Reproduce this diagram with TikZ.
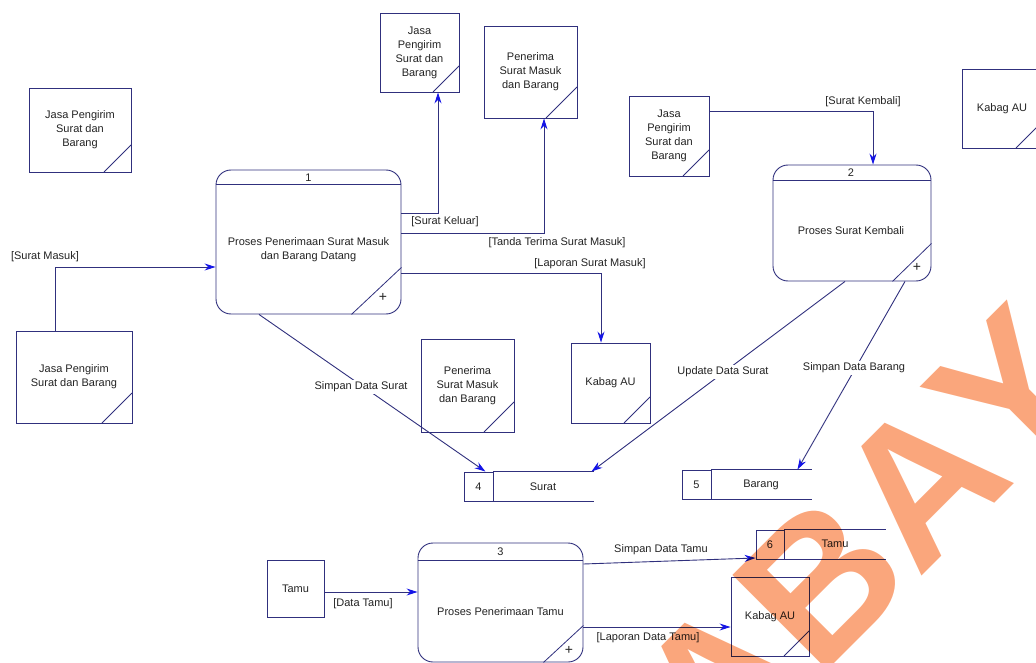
\documentclass[tikz,border=0pt]{standalone}
\usepackage{fontspec}
\setmainfont{Liberation Sans}
\usetikzlibrary{arrows.meta,calc}

\definecolor{edge}{RGB}{48,48,125}
\definecolor{tip}{RGB}{20,20,230}
\definecolor{ink}{RGB}{35,35,35}
\definecolor{stamp}{RGB}{250,166,124}

\tikzset{
  lbl/.style={font=\fontsize{11}{14}\selectfont, text=ink, align=center, inner sep=0pt},
  tag/.style={lbl, fill=white, inner sep=1.5pt},
  ent/.style={draw=edge, line width=0.9pt, lbl},
  dup/.style={path picture={\draw[edge, line width=0.8pt]
      ([xshift=-#1]path picture bounding box.south east) --
      ([yshift=#1]path picture bounding box.south east);}},
  dup/.default=27pt,
  proc/.style={draw=edge, line width=0.9pt, rounded corners=15pt, inner sep=0pt},
  thinedge/.style={draw=edge, line width=0.8pt},
  plus/.style={font=\fontsize{14}{14}\selectfont, text=ink, inner sep=0pt},
  cell/.style={draw=edge, line width=0.9pt, lbl, minimum width=29pt, minimum height=29pt},
  flow/.style={draw=edge, line width=0.9pt, -{Stealth[length=11pt,width=7pt,color=tip]}},
  wm/.style={text=stamp, font=\bfseries\fontsize{195}{195}\selectfont, rotate=45, anchor=base, inner sep=0pt},
}

\begin{document}
\begin{tikzpicture}[x=1pt,y=-1pt]
\useasboundingbox (0,0) rectangle (1036,663);

% ---- external entities ----
\node[ent, dup, minimum width=102pt, minimum height=84pt] (e1) at (80,130) {Jasa Pengirim\\Surat dan\\Barang};
\node[ent, dup=26pt, minimum width=79pt, minimum height=79pt] (e2) at (419.5,52.5) {Jasa\\Pengirim\\Surat dan\\Barang};
\node[ent, dup=31pt, minimum width=93pt, minimum height=92pt] (e3) at (530.5,72) {Penerima\\Surat Masuk\\dan Barang};
\node[ent, dup=26pt, minimum width=80pt, minimum height=80pt] (e4) at (669,136) {Jasa\\Pengirim\\Surat dan\\Barang};
\node[ent, dup=26pt, minimum width=80pt, minimum height=79pt] (e5) at (1002,108.5) {Kabag AU};
\node[ent, dup=30pt, minimum width=116pt, minimum height=92pt] (e6) at (74,377) {Jasa Pengirim\\Surat dan Barang};
\node[ent, dup=30pt, minimum width=93pt, minimum height=93pt] (e7) at (467.5,385.5) {Penerima\\Surat Masuk\\dan Barang};
\node[ent, dup=26pt, minimum width=79pt, minimum height=80pt] (e8) at (610.5,383) {Kabag AU};
\node[ent, minimum width=57pt, minimum height=57pt] (e9) at (295.5,588.5) {Tamu};
\node[ent, dup=25pt, minimum width=78pt, minimum height=79pt] (e10) at (770,616.5) {Kabag AU};

% ---- processes ----
\node[proc, minimum width=185pt, minimum height=144pt] (p1) at (308.5,242) {};
\draw[thinedge] ([yshift=-15pt]p1.north west) -- ([yshift=-15pt]p1.north east);
\node[lbl] (p1id) at (308.5,178) {1};
\node[lbl] (p1txt) at (308.5,250) {Proses Penerimaan Surat Masuk\\dan Barang Datang};
\draw[thinedge] ([yshift=47pt]p1.south east) -- ([xshift=-50pt]p1.south east);
\node[plus] (p1plus) at (383,297) {+};

\node[proc, minimum width=158pt, minimum height=116pt] (p2) at (852,223) {};
\draw[thinedge] ([yshift=-16pt]p2.north west) -- ([yshift=-16pt]p2.north east);
\node[lbl] (p2id) at (851,173) {2};
\node[lbl] (p2txt) at (851,231) {Proses Surat Kembali};
\draw[thinedge] ([yshift=38pt]p2.south east) -- ([xshift=-39pt]p2.south east);
\node[plus] (p2plus) at (917,267) {+};

\node[proc, minimum width=165pt, minimum height=119pt] (p3) at (500.5,602.5) {};
\draw[thinedge] ([yshift=-18pt]p3.north west) -- ([yshift=-18pt]p3.north east);
\node[lbl] (p3id) at (500.5,552) {3};
\node[lbl] (p3txt) at (500.5,612) {Proses Penerimaan Tamu};
\draw[thinedge] ([yshift=37pt]p3.south east) -- ([xshift=-40pt]p3.south east);
\node[plus] (p3plus) at (569,650) {+};

% ---- data stores ----
\node[cell] (s4) at (478.5,486.5) {4};
\draw[thinedge, line width=0.9pt] (s4.north east) -- ++(101,0) (s4.south east) -- ++(101,0);
\node[lbl] (s4txt) at (543,487) {Surat};

\node[cell] (s5) at (696.5,484.5) {5};
\draw[thinedge, line width=0.9pt] (s5.north east) -- ++(101,0) (s5.south east) -- ++(101,0);
\node[lbl] (s5txt) at (761,485) {Barang};

\node[cell, minimum width=28pt] (s6) at (770,544.5) {6};
\draw[thinedge, line width=0.9pt] (s6.north east) -- ++(102,0) (s6.south east) -- ++(102,0);
\node[lbl] (s6txt) at (835,544) {Tamu};

% ---- data flows ----
\draw[flow] ([xshift=-19pt]e6.north) |- ([yshift=-25pt]p1.west);
\node[lbl] (f1) at (45,257) {[Surat Masuk]};

\draw[flow] ([yshift=29pt]p1.east) -| ([xshift=18.5pt]e2.south);
\node[lbl] (f2) at (445,222) {[Surat Keluar]};

\draw[flow] ([yshift=9pt]p1.east) -| ([xshift=13.5pt]e3.south);
\node[lbl] (f3) at (557,243) {[Tanda Terima Surat Masuk]};

\draw[flow] ([yshift=-31pt]p1.east) -| ([xshift=-9.5pt]e8.north);
\node[lbl] (f4) at (590,264) {[Laporan Surat Masuk]};

\draw[flow] ([xshift=-49.5pt]p1.south) -- ([xshift=-8pt]s4.north east);
\node[tag] (f5) at (361,387) {Simpan Data Surat};

\draw[flow] ([yshift=25pt]e4.east) -| ([xshift=21pt]p2.north);
\node[lbl] (f6) at (863,102) {[Surat Kembali]};

\draw[flow] ([xshift=-7pt]p2.south) -- ([xshift=98pt]s4.north east);
\node[tag] (f7) at (723,372) {Update Data Surat};

\draw[flow] ([xshift=53pt]p2.south) -- ([xshift=86pt]s5.north east);
\node[tag] (f8) at (854,368) {Simpan Data Barang};

\draw[flow] ([yshift=-3.5pt]e9.east) -- ([yshift=-3.5pt]e9.east -| p3.west);
\node[lbl] (f9) at (363,604) {[Data Tamu]};

\draw[flow] ([yshift=38.5pt]p3.east) -- ([yshift=-13.5pt]s6.west);
\node[lbl] (f10) at (661,550) {Simpan Data Tamu};

\draw[flow] ([yshift=-24.5pt]p3.east) -- ([yshift=-10.5pt]e10.west);
\node[lbl] (f11) at (648,638) {[Laporan Data Tamu]};

% ---- stamp lettering ----
\begin{scope}[blend mode=multiply]
  \clip (0,0) rectangle (1036,663);
  \node[wm] (wm1) at (768,730) {A};
  \node[wm] (wm2) at (868,630) {B};
  \node[wm] (wm3) at (968,530) {A};
  \node[wm] (wm4) at (1058,439) {Y};
\end{scope}
\end{tikzpicture}
\end{document}
